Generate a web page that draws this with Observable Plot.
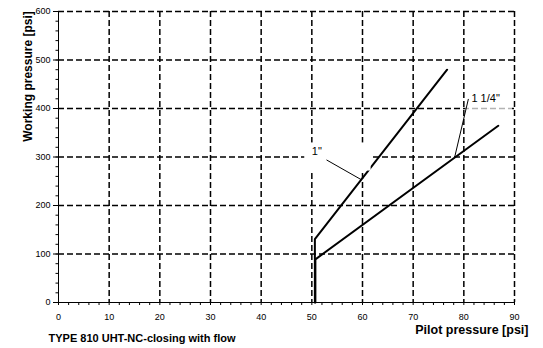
<!DOCTYPE html>
<html>
<head>
<meta charset="utf-8">
<script src="https://cdn.jsdelivr.net/npm/d3@7"></script>
<script src="https://cdn.jsdelivr.net/npm/@observablehq/plot@0.6"></script>
<style>
  html, body { margin: 0; padding: 0; background: white; }
</style>
</head>
<body>
<div id="chart"></div>
<script>
// Series data
const seriesNames = ["1\"", "1 1/4\""];
const pilot1 = [50.6, 50.6, 76.7];
const work1 = [0, 130.5, 480];
const pilot114 = [50.7, 50.7, 86.8];
const work114 = [0, 89, 364.5];

// Tick values
const xMajorTicks = [0, 10, 20, 30, 40, 50, 60, 70, 80, 90];
const xMinorTicks = d3.range(0, 91, 2);
const yMajorTicks = [0, 100, 200, 300, 400, 500, 600];
const yMinorTicks = d3.range(0, 601, 20);
const xGridValues = [10, 20, 30, 40, 50, 60, 70, 80, 90];
const yGridValues = [100, 200, 300, 400, 500, 600];

// Annotations (data units)
const labelPilot = [50.0, 81.5];
const labelWork = [311, 421];
const leaderFromPilot = [52.9, 80.9];
const leaderFromWork = [294, 419.7];
const leaderToPilot = [59.8, 78.2];
const leaderToWork = [253, 300];
const boxPilotLo = [48.6, 80.4];
const boxPilotHi = [61.7, 89.6];
const boxWorkLo = [271, 392];
const boxWorkHi = [329, 432];

const xTitle = "Pilot pressure [psi]";
const yTitle = "Working pressure [psi]";
const caption = "TYPE 810 UHT-NC-closing with flow";

const lines = [
  ...pilot1.map((x, i) => ({series: seriesNames[0], x, y: work1[i]})),
  ...pilot114.map((x, i) => ({series: seriesNames[1], x, y: work114[i]}))
];
const labels = seriesNames.map((name, i) => ({
  name, x: labelPilot[i], y: labelWork[i],
  lx1: leaderFromPilot[i], ly1: leaderFromWork[i], lx2: leaderToPilot[i], ly2: leaderToWork[i],
  bx1: boxPilotLo[i], bx2: boxPilotHi[i], by1: boxWorkLo[i], by2: boxWorkHi[i]
}));

const gridStyle = {stroke: "black", strokeOpacity: 1, strokeWidth: 1.5, strokeDasharray: "6,3"};

const chart = Plot.plot({
  width: 543,
  height: 348,
  marginLeft: 58,
  marginRight: 29,
  marginTop: 11,
  marginBottom: 46,
  x: {domain: [0, 90]},
  y: {domain: [0, 600]},
  style: {fontFamily: "'Liberation Sans', Arial, sans-serif", background: "white", color: "black"},
  marks: [
    Plot.gridX(xGridValues, gridStyle),
    Plot.gridY(yGridValues, gridStyle),
    Plot.ruleX([0], {stroke: "black", strokeWidth: 1}),
    Plot.ruleY([0], {stroke: "black", strokeWidth: 1}),
    Plot.axisX(xMinorTicks, {tickSize: 3, tickFormat: () => "", label: null}),
    Plot.axisX(xMajorTicks, {tickSize: 0, tickPadding: 11, fontSize: 9, label: null}),
    Plot.axisY(yMinorTicks, {tickSize: 2.5, tickFormat: () => "", label: null}),
    Plot.axisY(yMajorTicks, {tickSize: 5, tickPadding: 3, fontSize: 9, label: null}),
    Plot.line(lines, {x: "x", y: "y", z: "series", stroke: "black", strokeWidth: 2}),
    Plot.rect(labels.slice(0, 1), {x1: "bx1", x2: "bx2", y1: "by1", y2: "by2", fill: "#ffffff", stroke: "none"}),
    Plot.rect(labels.slice(1), {x1: "bx1", x2: "bx2", y1: "by1", y2: "by2", fill: "#ffffff", fillOpacity: 0.7, stroke: "none"}),
    Plot.link(labels, {x1: "lx1", y1: "ly1", x2: "lx2", y2: "ly2", stroke: "black", strokeWidth: 1}),
    Plot.text(labels, {x: "x", y: "y", text: "name", textAnchor: "start", fontSize: 11, fill: "black"}),
    Plot.text([xTitle], {frameAnchor: "bottom-right", dx: 14, dy: 31, textAnchor: "end", fontSize: 12.5, fontWeight: "bold"}),
    Plot.text([yTitle], {frameAnchor: "top-left", dx: -35, dy: 65, rotate: -90, textAnchor: "middle", fontSize: 12, fontWeight: "bold"}),
    Plot.text([caption], {frameAnchor: "bottom-left", dx: -10, dy: 39, textAnchor: "start", fontSize: 11, fontWeight: "bold"})
  ]
});
document.getElementById("chart").appendChild(chart);
</script>
</body>
</html>
